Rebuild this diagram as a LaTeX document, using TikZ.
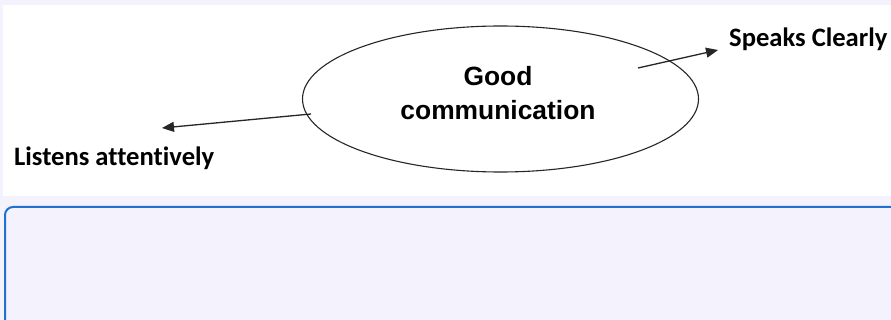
\documentclass[tikz,border=0pt]{standalone}
\usepackage{fontspec}
\setmainfont{Liberation Sans}
\newfontfamily\calib[Ligatures=NoCommon]{Carlito}
\usetikzlibrary{shapes.geometric,arrows.meta}
\definecolor{bglav}{HTML}{F4F3FD}
\definecolor{boxblue}{HTML}{1F73CF}
\tikzset{
  x=1pt,y=-1pt,
  lbl/.style={font=\calib\bfseries\fontsize{26.6}{30}\selectfont, inner sep=0pt},
  conn/.style={draw=black!85, line width=1.3pt, -{Triangle[length=12pt,width=10pt]}},
}
\begin{document}
\begin{tikzpicture}
\useasboundingbox (0,0) rectangle (891,320);
\fill[bglav] (0,0) rectangle (891,320);
\fill[white] (3,5) rectangle (891,196);
\node (panel) [draw=boxblue, line width=2pt, fill=bglav, rounded corners=8pt, minimum width=896pt, minimum height=122pt, anchor=north west, inner sep=0pt] at (4,206) {};
\node (good) [ellipse, draw=black!85, line width=1.1pt, minimum width=396pt, minimum height=146pt, inner sep=0pt] at (500.5,99) {};
\node (goodtxt) [align=center, inner sep=0pt, font=\bfseries\fontsize{26.4}{34}\selectfont] at (498,93) {Good\\communication};
\coordinate (rs) at (638,68);
\coordinate (ls) at (311,114);
\node (speaks) [lbl, anchor=west] at (729,39) {Speaks Clearly};
\node (listens) [lbl, anchor=west] at (14,158) {Listens attentively};
\draw[conn] (rs) -- (718,50) coordinate (re);
\draw[conn] (ls) -- (162,128) coordinate (le);
\end{tikzpicture}
\end{document}
